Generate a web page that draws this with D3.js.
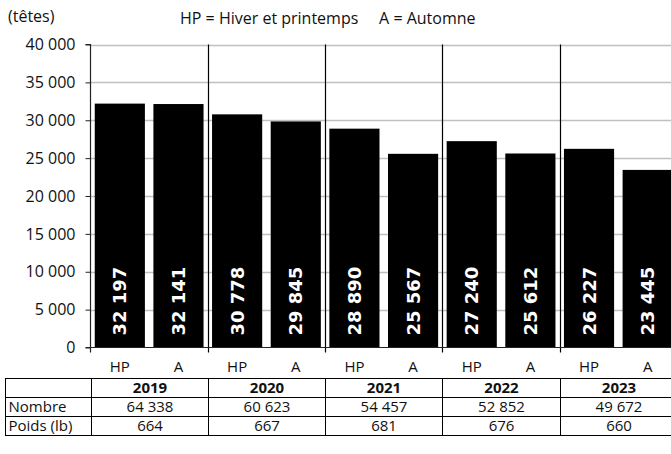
<!DOCTYPE html>
<html>
<head>
<meta charset="utf-8">
<script src="https://cdn.jsdelivr.net/npm/d3@7"></script>
<style>
  body { margin: 0; background: #fff; }
  svg { display: block; }
</style>
</head>
<body>
<div id="chart"></div>
<script>
// data
var years = ["2019", "2020", "2021", "2022", "2023"];
var seasons = ["HP", "A"];
var heads = [32197, 32141, 30778, 29845, 28890, 25567, 27240, 25612, 26227, 23445];
var nombre = ["64 338", "60 623", "54 457", "52 852", "49 672"];
var poids = ["664", "667", "681", "676", "660"];
var yTicks = [0, 5000, 10000, 15000, 20000, 25000, 30000, 35000, 40000];

var width = 671, height = 454;
var plotL = 90.5, plotR = 677, plotT = 44.5, plotB = 347.5;
var font = "'Open Sans', 'Noto Sans', sans-serif";

var svg = d3.select("#chart").append("svg").attr("width", width).attr("height", height);

var fmt = function (v) { return d3.format(",")(v).replace(/,/g, " "); };

var bars = [];
years.forEach(function (y, i) {
  seasons.forEach(function (s, j) {
    bars.push({ key: y + "-" + s, year: y, season: s, value: heads[i * 2 + j] });
  });
});

var xYear = d3.scaleBand().domain(years).range([plotL, plotR]);
var x = d3.scaleBand().domain(bars.map(d => d.key)).range([plotL, plotR]).paddingInner(0.145).paddingOuter(0.0725);
var yScale = d3.scaleLinear().domain([0, 40000]).range([plotB, plotT]);

// gridlines
svg.append("g").selectAll("line").data(yTicks.slice(1)).enter().append("line")
  .attr("x1", plotL).attr("x2", plotR)
  .attr("y1", d => Math.round(yScale(d)) + 0.5).attr("y2", d => Math.round(yScale(d)) + 0.5)
  .attr("stroke", "#c0c0c0").attr("stroke-width", 1.5);

// bars
svg.append("g").selectAll("rect").data(bars).enter().append("rect")
  .attr("x", d => x(d.key)).attr("width", x.bandwidth())
  .attr("y", d => yScale(d.value)).attr("height", d => plotB - yScale(d.value))
  .attr("fill", "#000");

// year separators
svg.append("g").selectAll("line").data(years.slice(1)).enter().append("line")
  .attr("x1", d => Math.round(xYear(d)) + 0.5).attr("x2", d => Math.round(xYear(d)) + 0.5)
  .attr("y1", plotT).attr("y2", plotB + 5)
  .attr("stroke", "#000").attr("stroke-width", 1.2);

// y axis
var yAxis = d3.axisLeft(yScale).tickValues(yTicks).tickSize(5).tickPadding(10).tickFormat(fmt);
var gy = svg.append("g").attr("transform", "translate(" + plotL + ",0)").call(yAxis);
gy.select(".domain").attr("stroke", "#222").attr("stroke-width", 1.2).attr("d", "M-5," + plotT + "H0V" + plotB);
gy.selectAll(".tick line").attr("stroke", "#222");
gy.selectAll("text").style("font-family", font).style("font-size", "16px").attr("fill", "#111");

// x axis line
svg.append("line").attr("x1", plotL - 5).attr("x2", plotR).attr("y1", plotB).attr("y2", plotB)
  .attr("stroke", "#222").attr("stroke-width", 1.2);
svg.append("line").attr("x1", plotL).attr("x2", plotL).attr("y1", plotB).attr("y2", plotB + 5)
  .attr("stroke", "#222").attr("stroke-width", 1.2);

// season labels
svg.append("g").selectAll("text").data(bars).enter().append("text")
  .attr("x", d => x(d.key) + x.bandwidth() / 2).attr("y", 372)
  .attr("text-anchor", "middle").style("font-family", font).style("font-size", "15px").attr("fill", "#111")
  .text(d => d.season);

// value labels inside bars
svg.append("g").selectAll("text").data(bars).enter().append("text")
  .attr("transform", d => "translate(" + (x(d.key) + x.bandwidth() / 2 + 6.5) + "," + (plotB - 12) + ") rotate(-90)")
  .style("font-family", "'DejaVu Sans', sans-serif").attr("font-weight", "bold").style("font-size", "18px")
  .attr("fill", "#fff").text(d => fmt(d.value));

// header texts
svg.append("text").attr("x", 8).attr("y", 22).style("font-family", font).style("font-size", "16px").attr("fill", "#111").text("(têtes)");
svg.append("text").attr("x", 180).attr("y", 24).style("font-family", font).style("font-size", "16px").attr("fill", "#111")
  .attr("xml:space", "preserve").text("HP = Hiver et printemps     A = Automne");

// table
var tTop = 378, rowH = 19, tLeft = 5.5;
var rows = [["", ...years], ["Nombre", ...nombre], ["Poids (lb)", ...poids]];
var tbl = svg.append("g");
rows.forEach(function (r, ri) {
  var yy = tTop + ri * rowH;
  r.forEach(function (c, ci) {
    var x0 = ci === 0 ? tLeft : Math.round(xYear(years[ci - 1])) + 0.5;
    var x1 = ci === 0 ? Math.round(plotL) + 0.5 : Math.round(xYear(years[ci - 1]) + xYear.bandwidth()) + 0.5;
    tbl.append("rect").attr("x", x0).attr("y", yy + 0.5).attr("width", x1 - x0).attr("height", rowH)
      .attr("fill", "none").attr("stroke", "#000").attr("stroke-width", 1);
    tbl.append("text")
      .attr("x", ci === 0 ? x0 + 3 : (x0 + x1) / 2).attr("y", yy + 15)
      .attr("text-anchor", ci === 0 ? "start" : "middle")
      .style("font-family", font).style("font-size", "15px")
      .attr("font-weight", ri === 0 ? "bold" : "normal").attr("fill", "#111")
      .text(c);
  });
});
</script>
</body>
</html>
